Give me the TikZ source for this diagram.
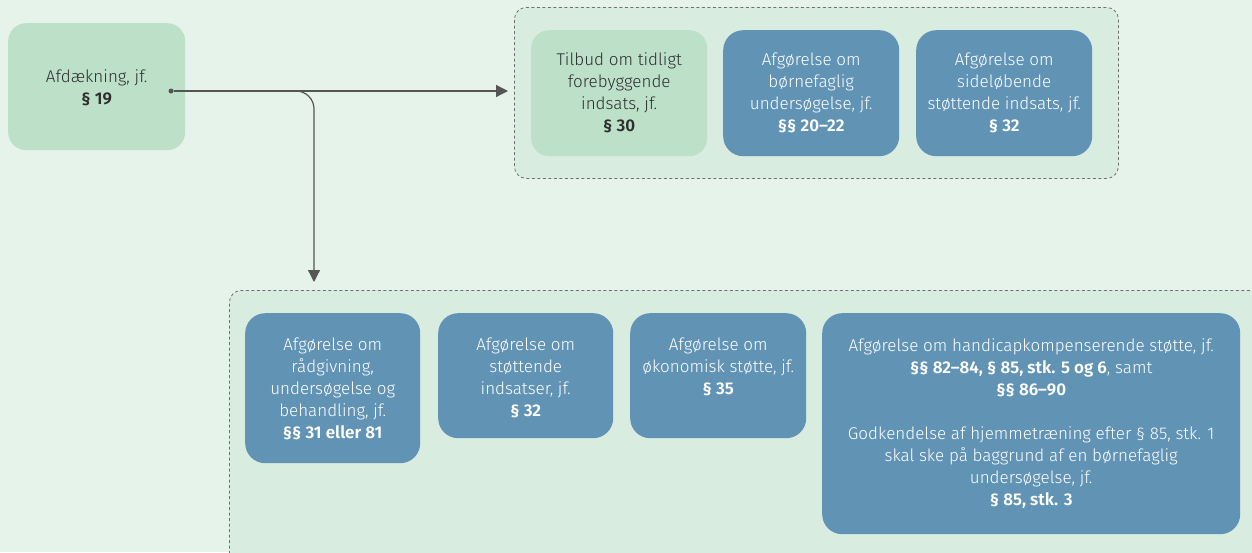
\documentclass[tikz,border=0pt]{standalone}
\usepackage{fontspec}
\setmainfont{Fira Sans}[UprightFont=* Light, BoldFont=* SemiBold]
\usetikzlibrary{arrows.meta}
\definecolor{bg}{HTML}{E6F3EA}
\definecolor{cont}{HTML}{D8ECE0}
\definecolor{greenbox}{HTML}{BDE0C9}
\definecolor{bluebox}{HTML}{6193B5}
\definecolor{linegray}{HTML}{555555}
\definecolor{dashgray}{HTML}{707070}
\definecolor{darktext}{HTML}{2E2E2E}
\tikzset{
  txt/.style={font=\fontsize{17}{22}\selectfont, align=center, inner sep=0pt},
  gbox/.style={txt, fill=greenbox, rounded corners=18pt, text=darktext},
  bbox/.style={txt, fill=bluebox, rounded corners=20pt, text=white},
  container/.style={fill=cont, draw=dashgray, dash pattern=on 3pt off 2.5pt, line width=0.8pt, rounded corners=12pt, inner sep=0pt},
  conn/.style={draw=linegray, line width=1.2pt, -{Triangle[length=12pt,width=12pt]}},
}
\begin{document}
\begin{tikzpicture}[x=1pt,y=-1pt]
\useasboundingbox (0,0) rectangle (1252,552);
\fill[bg] (0,0) rectangle (1252,552);
\begin{scope}
\clip (0,0) rectangle (1252,552);
% containers
\node[container, anchor=north west, minimum width=604pt, minimum height=171pt] (topc) at (514,7) {};
\node[container, anchor=north west, minimum width=1060pt, minimum height=300pt] (botc) at (229,290) {};
\end{scope}

% start box
\node[gbox, anchor=north west, minimum width=177pt, minimum height=127pt, text depth=0pt] (afd) at (8,23) {Afdækning, jf.\\\textbf{§ 19}};

% top boxes
\node[gbox, anchor=north west, minimum width=176pt, minimum height=126pt] (t1) at (531,30) {Tilbud om tidligt\\forebyggende\\indsats, jf.\\\textbf{§ 30}};
\node[bbox, anchor=north west, minimum width=176pt, minimum height=126pt] (t2) at (723,30) {Afgørelse om\\børnefaglig\\undersøgelse, jf.\\\textbf{§§ 20–22}};
\node[bbox, anchor=north west, minimum width=176pt, minimum height=126pt] (t3) at (916,30) {Afgørelse om\\sideløbende\\støttende indsats, jf.\\\textbf{§ 32}};

% bottom boxes
\node[bbox, anchor=north west, minimum width=175pt, minimum height=150pt] (ba) at (245,313) {};
\node[bbox, anchor=north west, minimum width=175pt, minimum height=125pt] (bb) at (438,313) {};
\node[bbox, anchor=north west, minimum width=176pt, minimum height=125pt] (bc) at (630,313) {};
\node[bbox, anchor=north west, minimum width=418pt, minimum height=221pt] (bd) at (822,313) {};

\node[txt, text=white, anchor=north] (ta) at ([yshift=-25pt]ba.north) {Afgørelse om\\rådgivning,\\undersøgelse og\\behandling, jf.\\\textbf{§§ 31 eller 81}};
\node[txt, text=white, anchor=north] (tb) at ([yshift=-25pt]bb.north) {Afgørelse om\\støttende\\indsatser, jf.\\\textbf{§ 32}};
\node[txt, text=white, anchor=north] (tc) at ([yshift=-25pt]bc.north) {Afgørelse om\\økonomisk støtte, jf.\\\textbf{§ 35}};
\node[txt, text=white, anchor=north] (td) at ([yshift=-25pt]bd.north) {Afgørelse om handicapkompenserende støtte, jf.\\\textbf{§§ 82–84, § 85, stk. 5 og 6}, samt\\\textbf{§§ 86–90}\\[22pt]Godkendelse af hjemmetræning efter § 85, stk. 1\\skal ske på baggrund af en børnefaglig\\undersøgelse, jf.\\\textbf{§ 85, stk. 3}};

% connectors
\node[circle, fill=linegray, inner sep=0pt, minimum size=5pt] (dot) at (171,91) {};
\coordinate (downend) at (314,282);
\draw[conn, rounded corners=18pt] (dot) -| (downend);
\draw[conn, shorten >=6pt] (dot) -- (dot -| topc.west);
\end{tikzpicture}
\end{document}
